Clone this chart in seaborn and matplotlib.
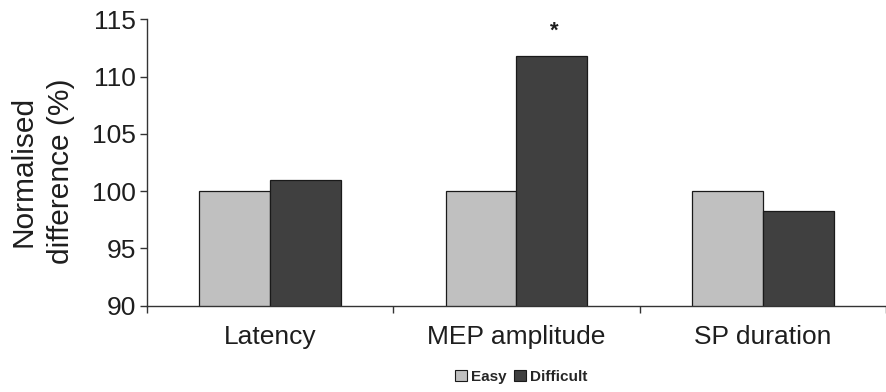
import matplotlib
matplotlib.use("Agg")
import matplotlib.pyplot as plt
import seaborn as sns
import pandas as pd

# Measures and normalised values per condition
measures = ["Latency", "MEP amplitude", "SP duration"]
conditions = ["Easy", "Difficult"]
easy_vals = [100.0, 100.0, 100.0]
difficult_vals = [101.0, 111.8, 98.3]
significant = [False, True, False]   # marks the Difficult bar with an asterisk

y_ticks = [90, 95, 100, 105, 110, 115]

df = pd.DataFrame({
    "measure": measures * 2,
    "condition": ["Easy"] * 3 + ["Difficult"] * 3,
    "value": easy_vals + difficult_vals,
})

sns.set_style("ticks")
plt.rcParams["font.family"] = ["Liberation Sans", "DejaVu Sans"]

fig = plt.figure(figsize=(8.86, 3.92), dpi=100)
ax = fig.add_axes([0.1659, 0.2202, 0.8341, 0.7306])

palette = {"Easy": "#c0c0c0", "Difficult": "#404040"}
sns.barplot(data=df, x="measure", y="value", hue="condition",
            order=measures, hue_order=conditions, palette=palette,
            width=0.575, gap=0, saturation=1, edgecolor="#1a1a1a",
            linewidth=0.9, legend=False, ax=ax)

ax.set_ylim(90, 115)
ax.set_xlim(-0.5, 2.48)
ax.set_yticks(y_ticks)
ax.set_yticklabels([str(t) for t in y_ticks])

# category boundaries carry the tick marks, labels sit at the centres
ax.set_xticks([-0.5, 0.5, 1.5, 2.5])
ax.set_xticklabels([])
ax.set_xticks(range(len(measures)), minor=True)
ax.set_xticklabels(measures, minor=True)
ax.tick_params(axis="x", which="major", bottom=True, direction="out", length=5,
               width=1, color="#333333")
ax.tick_params(axis="x", which="minor", bottom=False, length=0, pad=14,
               labelsize=19, labelcolor="#1e1e1e")
ax.tick_params(axis="y", which="major", left=True, direction="out", length=5,
               width=1, color="#333333", labelsize=19, labelcolor="#1e1e1e", pad=3)
ax.tick_params(axis="y", which="minor", left=False)

for s in ["top", "right"]:
    ax.spines[s].set_visible(False)
for s in ["left", "bottom"]:
    ax.spines[s].set_color("#333333")
    ax.spines[s].set_linewidth(1.0)

ax.set_xlabel("")
ax.set_ylabel("Normalised\ndifference (%)", fontsize=21.5, color="#1e1e1e",
              linespacing=1.45)
ax.yaxis.set_label_coords(-0.097, 0.47)

# asterisk above significant Difficult bars
diff_bars = ax.patches[len(measures):2 * len(measures)]
for bar, sig, v in zip(diff_bars, significant, difficult_vals):
    if sig:
        ax.text(bar.get_x() + bar.get_width() / 2 + 0.01, v + 1.2, "*",
                ha="center", va="bottom", fontsize=16, fontweight="bold",
                color="#1e1e1e")

handles = [plt.Rectangle((0, 0), 1, 1, facecolor=palette[c], edgecolor="#1a1a1a",
                         linewidth=0.8) for c in conditions]
fig.legend(handles, conditions, loc="center", bbox_to_anchor=(0.5886, 0.039),
           ncol=2, frameon=False, handlelength=0.75, handleheight=0.75,
           handletextpad=0.3, columnspacing=0.5,
           prop={"weight": "bold", "size": 11})

fig.savefig("out.png", dpi=100)
